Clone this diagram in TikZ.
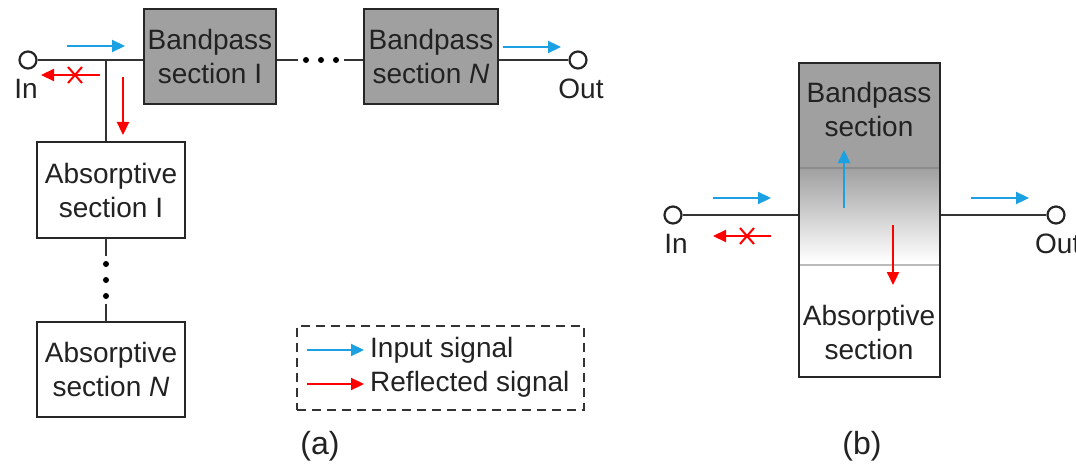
\documentclass[tikz,border=0pt]{standalone}
\usepackage{fontspec}
\setmainfont{Liberation Sans}
\usetikzlibrary{arrows.meta}
\definecolor{boxgray}{HTML}{A0A0A0}
\definecolor{sigblue}{HTML}{1BA1E2}
\definecolor{sigred}{HTML}{FF0000}
\definecolor{sepgray}{HTML}{8C8C8C}
\definecolor{txt}{HTML}{222222}
\tikzset{
  wire/.style={line width=2.4pt, draw=black!80},
  blk/.style={draw=black!85, line width=2.4pt, align=center, inner sep=0pt, text=txt,
    font=\fontsize{28}{34}\selectfont},
  bpblk/.style={blk, fill=boxgray},
  abblk/.style={blk, fill=white},
  port/.style={circle, draw=black!85, line width=2.2pt, fill=white, minimum size=17pt, inner sep=0pt},
  lbl/.style={inner sep=0pt, text=txt, font=\fontsize{28}{34}\selectfont},
  sigin/.style={draw=sigblue, line width=2.2pt, -{Triangle[length=13pt,width=12pt]}},
  sigref/.style={draw=sigred, line width=2.2pt, -{Triangle[length=13pt,width=12pt]}},
  xmark/.style={draw=sigred, line width=2pt},
  dotmark/.style={circle, fill=black, minimum size=6pt, inner sep=0pt},
}
\begin{document}
\begin{tikzpicture}[x=1pt,y=-1pt]
\useasboundingbox (0,0) rectangle (1076,468);
% ---------- panel (a) ----------
\node[port] (in) at (28,60) {};
\node[lbl, anchor=north] (inl) at (26,79) {In};
\node[bpblk, minimum width=132pt, minimum height=95pt] (b1) at (210,56.5) {Bandpass\\section I};
\node[bpblk, minimum width=134pt, minimum height=95pt] (bN) at (431,56.5) {Bandpass\\section \textit{N}};
\node[port] (out) at (578,60) {};
\node[lbl, anchor=north] (outl) at (581,79) {Out};
\node[abblk, minimum width=148pt, minimum height=96pt] (a1) at (111,190) {Absorptive\\section I};
\node[abblk, minimum width=148pt, minimum height=95pt] (aN) at (111,369.5) {Absorptive\\section \textit{N}};
\coordinate (j) at (106,60);
\draw[wire] (in) -- (j) -- (b1.west |- j);
\draw[wire] (j) -- (j |- a1.north);
% horizontal dots
\node[dotmark] (h1) at (306,60) {};
\node[dotmark] (h2) at (321,60) {};
\node[dotmark] (h3) at (336,60) {};
\draw[wire] (b1.east |- j) -- (298,60);
\draw[wire] (344,60) -- (bN.west |- j);
\draw[wire] (bN.east |- j) -- (out);
% vertical dots
\coordinate (va) at (106,238);
\node[dotmark] (v1) at (106,264) {};
\node[dotmark] (v2) at (106,280) {};
\node[dotmark] (v3) at (106,296) {};
\draw[wire] (va) -- (106,256);
\draw[wire] (106,304) -- (106,322);
% signals (a)
\draw[sigin] (67,46) -- (125,46);
\draw[sigin] (503,47) -- (561,47);
\draw[sigref] (100,75) -- (41,75);
\draw[xmark] (68,67) -- (82,83);
\draw[xmark] (68,83) -- (82,67);
\draw[sigref] (123,77) -- (123,135);
% legend
\node[draw=black!80, dashed, dash pattern=on 9pt off 6pt, line width=2.2pt, minimum width=287pt, minimum height=84pt, inner sep=0pt] (leg) at (440.5,368) {};
\draw[sigin] (307,350) -- (364,350);
\node[lbl, anchor=west] (legin) at (370,350) {Input signal};
\draw[sigref] (307,384) -- (364,384);
\node[lbl, anchor=west] (legref) at (370,384) {Reflected signal};
\node[lbl, font=\fontsize{32}{38}\selectfont] (capa) at (320,446) {(a)};
% ---------- panel (b) ----------
\fill[boxgray] (799,63) rectangle (940,168);
\shade[top color=boxgray, bottom color=white] (799,168) rectangle (940,262);
\fill[white] (799,262) rectangle (940,377);
\draw[sepgray, line width=1.4pt] (799,168) -- (940,168);
\draw[sepgray!60, line width=1.4pt] (799,265) -- (940,265);
\node[draw=black!85, line width=2.4pt, minimum width=141pt, minimum height=314pt, inner sep=0pt] (comb) at (869.5,220) {};
\node[lbl, align=center] (bpt) at (869,109) {Bandpass\\section};
\node[lbl, align=center] (abt) at (869,332) {Absorptive\\section};
\node[port] (in2) at (673,215) {};
\node[lbl, anchor=north] (in2l) at (676,234) {In};
\node[port] (out2) at (1056,215) {};
\node[lbl, anchor=north west] (out2l) at (1035,234) {Out};
\draw[wire] (in2) -- (comb.west |- in2);
\draw[wire] (comb.east |- out2) -- (out2);
\draw[sigin] (713,198) -- (771,198);
\draw[sigin] (971,198) -- (1029,198);
\draw[sigref] (771,236) -- (713,236);
\draw[xmark] (740,228) -- (754,244);
\draw[xmark] (740,244) -- (754,228);
\draw[sigin] (844,208) -- (844,150);
\draw[sigref] (893,225) -- (893,285);
\node[lbl, font=\fontsize{32}{38}\selectfont] (capb) at (862,446) {(b)};
\end{tikzpicture}
\end{document}
